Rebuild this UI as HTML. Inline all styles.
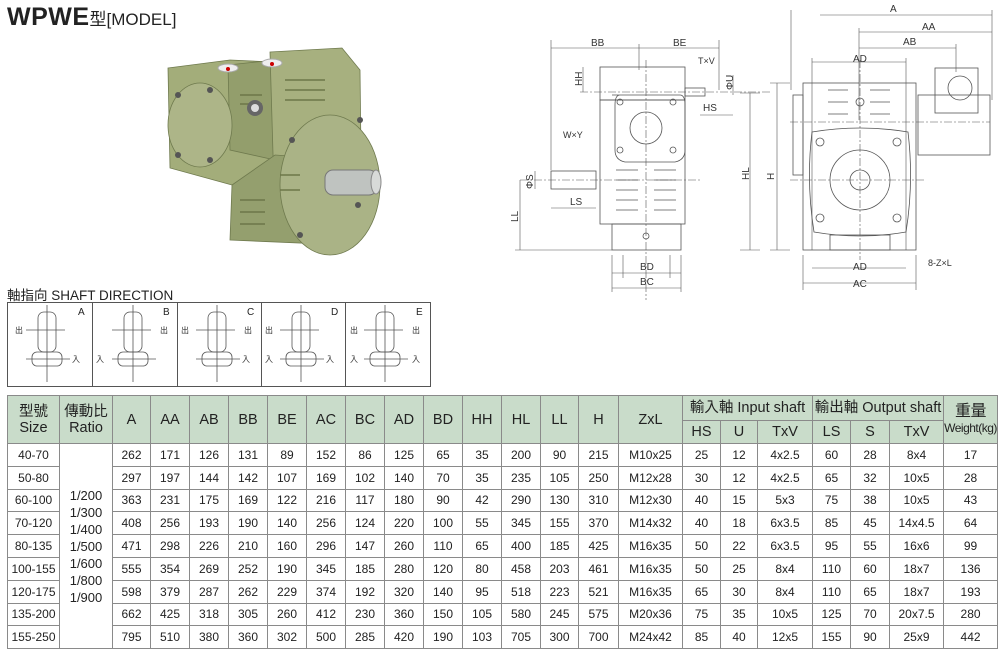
<!DOCTYPE html>
<html><head><meta charset="utf-8"><style>
*{margin:0;padding:0;box-sizing:border-box}
body{width:1000px;height:657px;background:#fff;position:relative;overflow:hidden;font-family:"Liberation Sans","Noto Sans CJK TC",sans-serif;color:#222}
.t{position:absolute}
table{position:absolute;left:7px;top:395px;border-collapse:collapse;table-layout:fixed;width:990px}
td,th{border:1px solid #8a8a8a;text-align:center;font-size:12px;font-weight:normal;padding:0;white-space:nowrap;overflow:hidden}
th{background:#c9dcca;font-size:14.5px;line-height:16px}
tr.d td{height:22.8px}
.sd{position:absolute;top:302px;height:85px;border:1px solid #555}
</style></head><body>
<div class="t" style="left:7px;top:3px;font-size:25px;font-weight:bold;letter-spacing:0.5px">WPWE<span style="font-weight:normal;font-size:17px;letter-spacing:0">型[MODEL]</span></div>

<svg class="t" style="left:0;top:0" width="1000" height="300" viewBox="0 0 1000 300">
<g stroke="#6f7a4e" stroke-width="0.8">
<polygon points="168,68 230,60 272,62 268,190 232,185 170,168" fill="#a3ad7a"/>
<polygon points="228,65 275,60 275,160 230,150" fill="#939e6c"/>
<polygon points="270,52 342,48 360,70 362,238 330,248 275,222" fill="#a7b07f"/>
<polygon points="275,155 345,160 345,245 230,240 232,185" fill="#949f6e"/>
<ellipse cx="330" cy="185" rx="50" ry="70" fill="#aab386"/>
<ellipse cx="200" cy="125" rx="32" ry="42" fill="#adb588"/>
</g>
<g stroke="#6d7748" stroke-width="1.5">
<path d="M240,95h22M240,104h22M285,80h40M285,90h40M285,100h40M240,200h25M240,212h25M240,224h25M280,175h20M280,190h20"/>
</g>
<g fill="#555"><circle cx="178" cy="95" r="3"/><circle cx="210" cy="90" r="3"/><circle cx="178" cy="155" r="3"/><circle cx="210" cy="160" r="3"/><circle cx="292" cy="140" r="3"/><circle cx="360" cy="120" r="3"/><circle cx="300" cy="235" r="3"/><circle cx="358" cy="205" r="3"/></g>
<rect x="325" y="170" width="52" height="25" rx="8" fill="#bfc3c0" stroke="#777"/>
<ellipse cx="376" cy="182" rx="5" ry="12" fill="#d8dad8" stroke="#888"/>
<circle cx="255" cy="108" r="8" fill="#666"/><circle cx="255" cy="108" r="4" fill="#ddd"/>
<ellipse cx="228" cy="68" rx="10" ry="4" fill="#eee" stroke="#aaa"/><circle cx="228" cy="69" r="2" fill="#c00"/>
<ellipse cx="272" cy="63" rx="10" ry="4" fill="#eee" stroke="#aaa"/><circle cx="272" cy="64" r="2" fill="#c00"/>

<g fill="none" stroke="#555" stroke-width="0.8">
<rect x="600" y="67" width="85" height="33"/>
<rect x="600" y="100" width="85" height="124"/>
<path d="M612,95 h68 q5,0 5,10 v45 q0,10 -10,12 h-50 q-10,-2 -10,-12 v-45 q0,-10 5,-10z"/>
<circle cx="646" cy="128" r="16"/>
<circle cx="620" cy="102" r="3"/><circle cx="673" cy="102" r="3"/><circle cx="620" cy="150" r="3"/><circle cx="673" cy="150" r="3"/>
<rect x="612" y="224" width="69" height="26"/>
<circle cx="646" cy="236" r="3"/>
<rect x="551" y="171" width="45" height="18"/>
<rect x="685" y="88" width="20" height="8"/>
<path d="M616,170h22M654,170h22M616,180h22M654,180h22M616,190h22M654,190h22M616,200h22M654,200h22M616,210h22M654,210h22"/>
</g>
<g stroke="#555" stroke-width="0.6" fill="none">
<path d="M551,48H719M551,40V170M639,44V70M719,40V90M520,180V250M515,250H612M750,93V250M740,93H760M740,250H760M612,273H681M623,273H670M612,288H681M612,255V292M681,255V292M623,255V278M670,255V278M535,171V189M583,67V92M733,75V95M700,115H733M551,208H596"/>
<path d="M820,15H992M791,10V90M992,10V100M859,32H992M859,48H956M859,28V120M956,44V72M812,62H906M812,58V250M906,58V250M777,83V250M770,83H790M770,250H790M812,268H906M803,283H916M803,255V290M916,255V290"/>
<path stroke-dasharray="8,2,2,2" d="M646,60V300M520,180H700M580,92H770M860,60V260M790,180H925M790,122H990"/>
</g>
<g fill="none" stroke="#555" stroke-width="0.8">
<rect x="803" y="83" width="113" height="167"/>
<rect x="793" y="95" width="10" height="80"/>
<path d="M812,132 q48,-8 96,0 q6,50 -2,100 q-46,8 -92,0 q-8,-50 -2,-100z"/>
<circle cx="860" cy="180" r="30"/><circle cx="860" cy="180" r="10"/>
<circle cx="820" cy="142" r="4"/><circle cx="897" cy="142" r="4"/><circle cx="820" cy="218" r="4"/><circle cx="897" cy="218" r="4"/>
<path d="M828,90h20M870,90h20M828,102h20M870,102h20M828,114h20M870,114h20"/>
<circle cx="860" cy="102" r="4"/>
<rect x="918" y="95" width="72" height="60"/>
<rect x="935" y="68" width="43" height="45"/>
<circle cx="960" cy="88" r="12"/>
<rect x="830" y="235" width="60" height="15"/>
</g>
<g font-size="10" fill="#333" font-family="Liberation Sans,sans-serif">
<text x="591" y="46">BB</text><text x="673" y="46">BE</text>
<text x="698" y="64" font-size="9">T×V</text>
<text x="563" y="138" font-size="9">W×Y</text>
<text x="570" y="205">LS</text><text x="703" y="111">HS</text>
<text x="640" y="270">BD</text><text x="640" y="285">BC</text>
<text x="890" y="12">A</text><text x="922" y="30">AA</text><text x="903" y="45">AB</text>
<text x="853" y="62">AD</text><text x="853" y="270">AD</text><text x="853" y="287">AC</text>
<text x="928" y="266" font-size="9">8-Z×L</text>
<text transform="translate(582,86) rotate(-90)">HH</text>
<text transform="translate(733,90) rotate(-90)">ΦU</text>
<text transform="translate(533,189) rotate(-90)">ΦS</text>
<text transform="translate(518,222) rotate(-90)">LL</text>
<text transform="translate(749,180) rotate(-90)">HL</text>
<text transform="translate(774,180) rotate(-90)">H</text>
</g>
</svg>

<div class="t" style="left:7px;top:284px;font-size:13.5px">軸指向 SHAFT DIRECTION</div>
<div class="sd" style="left:7px;width:86px"></div>
<div class="sd" style="left:92px;width:86px"></div>
<div class="sd" style="left:177px;width:85px"></div>
<div class="sd" style="left:261px;width:85px"></div>
<div class="sd" style="left:345px;width:86px"></div>
<svg class="t" style="left:0;top:300px" width="440" height="90">
<g font-size="10" fill="#222" font-family="Liberation Sans,sans-serif"><text x="78" y="15">A</text><text x="163" y="15">B</text><text x="247" y="15">C</text><text x="331" y="15">D</text><text x="416" y="15">E</text></g>
<g fill="none" stroke="#555" stroke-width="0.8">
<g id="u"><rect x="38" y="12" width="18" height="40" rx="6"/><rect x="32" y="52" width="30" height="14" rx="5"/><path d="M47,5V82M26,30H65M26,59H70"/></g>
<use href="#u" x="86"/><use href="#u" x="170"/><use href="#u" x="254"/><use href="#u" x="338"/>
</g>
<g font-size="8" fill="#333" font-family="Noto Sans CJK TC,sans-serif">
<text x="15" y="33">出</text><text x="72" y="62">入</text>
<text x="160" y="33">出</text><text x="96" y="62">入</text>
<text x="181" y="33">出</text><text x="244" y="33">出</text><text x="242" y="62">入</text>
<text x="265" y="33">出</text><text x="265" y="62">入</text><text x="326" y="62">入</text>
<text x="350" y="33">出</text><text x="412" y="33">出</text><text x="350" y="62">入</text><text x="412" y="62">入</text>
</g></svg>

<table>
<colgroup><col style="width:52px"><col style="width:53px"><col style="width:38px"><col style="width:39px"><col style="width:39px"><col style="width:39px"><col style="width:39px"><col style="width:39px"><col style="width:39px"><col style="width:39px"><col style="width:39px"><col style="width:39px"><col style="width:39px"><col style="width:38px"><col style="width:40px"><col style="width:64px"><col style="width:38px"><col style="width:37px"><col style="width:55px"><col style="width:38px"><col style="width:39px"><col style="width:54px"><col style="width:54px"></colgroup>
<tr style="height:25px"><th rowspan="2">型號<br>Size</th><th rowspan="2">傳動比<br>Ratio</th><th rowspan="2">A</th><th rowspan="2">AA</th><th rowspan="2">AB</th><th rowspan="2">BB</th><th rowspan="2">BE</th><th rowspan="2">AC</th><th rowspan="2">BC</th><th rowspan="2">AD</th><th rowspan="2">BD</th><th rowspan="2">HH</th><th rowspan="2">HL</th><th rowspan="2">LL</th><th rowspan="2">H</th><th rowspan="2">ZxL</th><th colspan="3">輸入軸 Input shaft</th><th colspan="3">輸出軸 Output shaft</th><th rowspan="2" style="font-size:12px;letter-spacing:-0.5px"><span style="font-size:16px">重量</span><br>Weight(kg)</th></tr>
<tr style="height:23px"><th>HS</th><th>U</th><th>TxV</th><th>LS</th><th>S</th><th>TxV</th></tr>
<tr class="d"><td>40-70</td><td rowspan="9" style="line-height:17px;font-size:13px">1/200<br>1/300<br>1/400<br>1/500<br>1/600<br>1/800<br>1/900</td><td>262</td><td>171</td><td>126</td><td>131</td><td>89</td><td>152</td><td>86</td><td>125</td><td>65</td><td>35</td><td>200</td><td>90</td><td>215</td><td>M10x25</td><td>25</td><td>12</td><td>4x2.5</td><td>60</td><td>28</td><td>8x4</td><td>17</td></tr>
<tr class="d"><td>50-80</td><td>297</td><td>197</td><td>144</td><td>142</td><td>107</td><td>169</td><td>102</td><td>140</td><td>70</td><td>35</td><td>235</td><td>105</td><td>250</td><td>M12x28</td><td>30</td><td>12</td><td>4x2.5</td><td>65</td><td>32</td><td>10x5</td><td>28</td></tr>
<tr class="d"><td>60-100</td><td>363</td><td>231</td><td>175</td><td>169</td><td>122</td><td>216</td><td>117</td><td>180</td><td>90</td><td>42</td><td>290</td><td>130</td><td>310</td><td>M12x30</td><td>40</td><td>15</td><td>5x3</td><td>75</td><td>38</td><td>10x5</td><td>43</td></tr>
<tr class="d"><td>70-120</td><td>408</td><td>256</td><td>193</td><td>190</td><td>140</td><td>256</td><td>124</td><td>220</td><td>100</td><td>55</td><td>345</td><td>155</td><td>370</td><td>M14x32</td><td>40</td><td>18</td><td>6x3.5</td><td>85</td><td>45</td><td>14x4.5</td><td>64</td></tr>
<tr class="d"><td>80-135</td><td>471</td><td>298</td><td>226</td><td>210</td><td>160</td><td>296</td><td>147</td><td>260</td><td>110</td><td>65</td><td>400</td><td>185</td><td>425</td><td>M16x35</td><td>50</td><td>22</td><td>6x3.5</td><td>95</td><td>55</td><td>16x6</td><td>99</td></tr>
<tr class="d"><td>100-155</td><td>555</td><td>354</td><td>269</td><td>252</td><td>190</td><td>345</td><td>185</td><td>280</td><td>120</td><td>80</td><td>458</td><td>203</td><td>461</td><td>M16x35</td><td>50</td><td>25</td><td>8x4</td><td>110</td><td>60</td><td>18x7</td><td>136</td></tr>
<tr class="d"><td>120-175</td><td>598</td><td>379</td><td>287</td><td>262</td><td>229</td><td>374</td><td>192</td><td>320</td><td>140</td><td>95</td><td>518</td><td>223</td><td>521</td><td>M16x35</td><td>65</td><td>30</td><td>8x4</td><td>110</td><td>65</td><td>18x7</td><td>193</td></tr>
<tr class="d"><td>135-200</td><td>662</td><td>425</td><td>318</td><td>305</td><td>260</td><td>412</td><td>230</td><td>360</td><td>150</td><td>105</td><td>580</td><td>245</td><td>575</td><td>M20x36</td><td>75</td><td>35</td><td>10x5</td><td>125</td><td>70</td><td>20x7.5</td><td>280</td></tr>
<tr class="d"><td>155-250</td><td>795</td><td>510</td><td>380</td><td>360</td><td>302</td><td>500</td><td>285</td><td>420</td><td>190</td><td>103</td><td>705</td><td>300</td><td>700</td><td>M24x42</td><td>85</td><td>40</td><td>12x5</td><td>155</td><td>90</td><td>25x9</td><td>442</td></tr>
</table>
</body></html>
